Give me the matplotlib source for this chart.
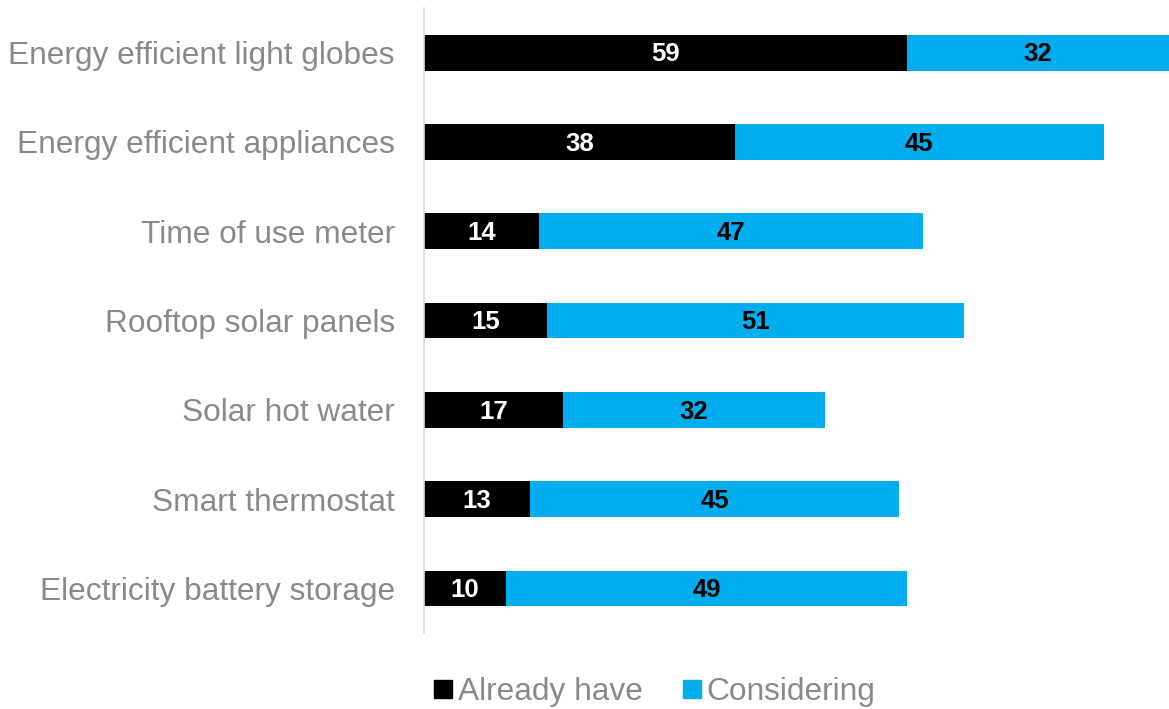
import matplotlib.pyplot as plt
from matplotlib.lines import Line2D

categories = [
    "Energy efficient light globes",
    "Energy efficient appliances",
    "Time of use meter",
    "Rooftop solar panels",
    "Solar hot water",
    "Smart thermostat",
    "Electricity battery storage",
]
already_have = [59, 38, 14, 15, 17, 13, 10]
considering = [32, 45, 47, 51, 32, 45, 49]
series_names = ["Already have", "Considering"]

BLACK = "#000000"
BLUE = "#00AEEF"
GREY_TEXT = "#898989"

plt.rcParams["font.family"] = ["Liberation Sans", "DejaVu Sans"]

fig = plt.figure(figsize=(11.69, 7.09), dpi=100)
ax = fig.add_axes([424 / 1169, 76 / 709, 1 - 424 / 1169, (633 - 8) / 709])

y = list(range(len(categories)))
bar_h = 0.40
ax.barh(y, already_have, height=bar_h, color=BLACK, label=series_names[0])
ax.barh(y, considering, left=already_have, height=bar_h, color=BLUE,
        label=series_names[1])

for i, (a, c) in enumerate(zip(already_have, considering)):
    ax.text(a / 2, i + 0.02, str(a), ha="center", va="center", color="white",
            fontsize=18.5, fontweight="bold")
    ax.text(a + c / 2, i + 0.02, str(c), ha="center", va="center",
            color="black", fontsize=18.5, fontweight="bold")

ax.set_xlim(0, 91)
ax.set_ylim(len(categories) - 0.5, -0.5)
ax.set_yticks(y)
ax.set_yticklabels(categories, fontsize=22.8, color=GREY_TEXT)
ax.tick_params(axis="y", length=0, pad=21)
ax.set_xticks([])
for side in ("top", "right", "bottom"):
    ax.spines[side].set_visible(False)
ax.spines["left"].set_color("#d9d9d9")
ax.spines["left"].set_linewidth(1.2)

handles = [
    Line2D([], [], marker="s", linestyle="none", markersize=12.5,
           markerfacecolor=BLACK, markeredgecolor=BLACK),
    Line2D([], [], marker="s", linestyle="none", markersize=12.5,
           markerfacecolor=BLUE, markeredgecolor=BLUE),
]
leg = fig.legend(handles, series_names, loc="center",
                 bbox_to_anchor=(655 / 1169, 1 - 692 / 709), ncol=2,
                 frameon=False, fontsize=22.8, handlelength=0.55,
                 handletextpad=0.2, columnspacing=1.25, borderpad=0)
for t in leg.get_texts():
    t.set_color(GREY_TEXT)

fig.savefig("out.png", dpi=100)
